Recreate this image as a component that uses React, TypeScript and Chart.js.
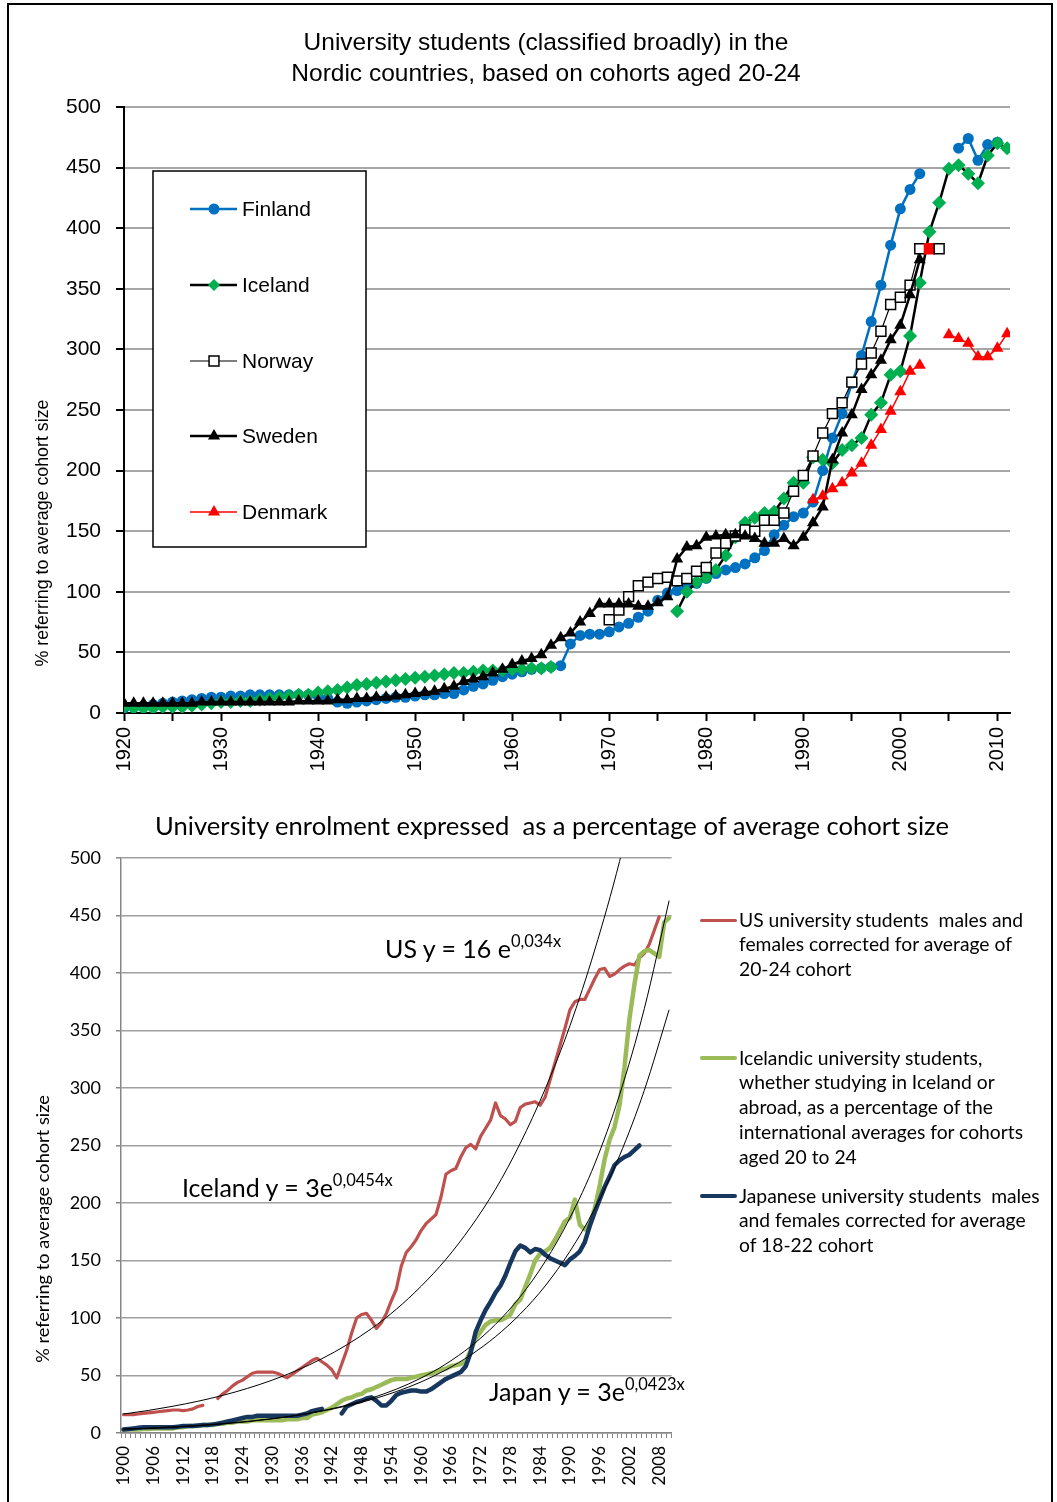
import React, { useEffect, useRef } from 'react';
import { Chart, registerables } from 'chart.js';

Chart.register(...registerables);

// ---------------- Top chart (Nordic countries) ----------------
const nordicTickYears = [1920, 1925, 1930, 1935, 1940, 1945, 1950, 1955, 1960, 1965, 1970, 1975, 1980, 1985, 1990, 1995, 2000, 2005, 2010];
const nordicYTicks = [0, 50, 100, 150, 200, 250, 300, 350, 400, 450, 500];

const finlandStart = 1920;
const finlandValues = [
  4, 5, 6, 7, 8, 9, 10, 11, 12, 13,
  13, 14, 14, 15, 15, 15, 15, 15, 15, 15,
  14, 12, 9, 8, 9, 10, 11, 12, 13, 13,
  14, 15, 15, 16, 16, 19, 22, 24, 27, 30,
  32, 34, 36, 37, 38, 39, 57, 64, 65, 65,
  67, 71, 74, 79, 84, 93, 99, 101, 104, 107,
  111, 115, 118, 120, 123, 128, 134, 147, 155, 162,
  165, 174, 200, 227, 247, 272, 295, 323, 353, 386,
  416, 432, 445, null, null, null, 466, 474, 456, 469,
  471,
];

const icelandStart = 1920;
const icelandValues = [
  5, 4, 4, 4, 5, 5, 5, 6, 7, 8,
  9, 9, 10, 10, 11, 12, 13, 14, 15, 15,
  17, 18, 19, 21, 23, 24, 25, 26, 27, 28,
  29, 30, 31, 32, 33, 33, 34, 35, 35, 35,
  36, 36, 37, 37, 38, null, null, null, null, null,
  null, null, null, null, null, null, null, 84, 100, 108,
  112, 118, 130, 145, 157, 161, 165, 166, 177, 190,
  190, 211, 209, 206, 217, 221, 227, 246, 256, 279,
  282, 311, 355, 397, 421, 449, 452, 445, 437, 460,
  470, 466,
];

const norwayStart = 1970;
const norwayValues = [
  77, 85, 96, 105, 108, 111, 112, 109, 111, 117,
  120, 132, 140, 146, 151, 150, 159, 159, 165, 183,
  196, 212, 231, 247, 256, 273, 288, 297, 315, 337,
  343, 353, 383, 383, 383,
];

const swedenStart = 1920;
const swedenValues = [
  8, 8, 8, 8, 8, 8, 8, 8, 9, 9,
  9, 9, 9, 9, 9, 9, 9, 9, 10, 10,
  10, 10, 11, 11, 12, 12, 13, 13, 14, 15,
  16, 17, 18, 20, 22, 26, 28, 30, 33, 36,
  40, 43, 45, 48, 56, 62, 66, 75, 82, 90,
  90, 90, 90, 88, 88, 91, 96, 127, 137, 138,
  145, 146, 147, 147, 146, 144, 140, 140, 144, 138,
  145, 157, 170, 209, 231, 246, 267, 279, 291, 308,
  320, 345, 374,
];

const denmarkStart = 1991;
const denmarkValues = [
  176, 179, 185, 190, 198, 206, 221, 234, 249,
  265, 282, 287, null, null, 312, 309, 305, 294, 294,
  301, 313,
];

const nordicLegendLabels = ['Finland', 'Iceland', 'Norway', 'Sweden', 'Denmark'];

// ---------------- Bottom chart (US / Iceland / Japan) ----------------
const enrolLabelYears = [1900, 1906, 1912, 1918, 1924, 1930, 1936, 1942, 1948, 1954, 1960, 1966, 1972, 1978, 1984, 1990, 1996, 2002, 2008];
const enrolYTicks = [0, 50, 100, 150, 200, 250, 300, 350, 400, 450, 500];
const enrolFirstYear = 1900;
const enrolLastYear = 2010;

const usStart = 1900;
const usValues = [
  16, 16, 16, 16.5, 17, 17.5, 18, 18.5, 19, 19.5,
  20, 20, 19.5, 20, 21, 23, 24, null, null, 30,
  34, 37, 41, 44, 46, 49, 52, 53, 53, 53,
  53, 52, 50, 48, 51, 54, 57, 60, 63, 65,
  62, 59, 55, 48, 60, 72, 87, 100, 103, 104,
  98, 91, 96, 104, 115, 125, 145, 157, 162, 168,
  176, 182, 186, 190, 205, 225, 228, 230, 240, 248,
  251, 247, 258, 265, 272, 287, 276, 273, 268, 271,
  283, 286, 287, 288, 285, 292, 307, 322, 337, 352,
  368, 375, 377, 377, 386, 395, 403, 404, 397, 399,
  403, 406, 408, 407, 413, 417, 425, 437, 449,
];

const icelandIntlStart = 1900;
const icelandIntlValues = [
  3, 3, 3, 3, 3.5, 3.5, 4, 4, 4, 4,
  4, 5, 5, 6, 6, 6, 7, 7, 7, 8,
  8, 9, 9, 10, 10, 10, 11, 11, 11, 11,
  11, 11, 11, 12, 12, 12, 13, 13, 16, 17,
  18, 20, 22, 25, 28, 30, 31, 33, 34, 37,
  38, 40, 42, 44, 46, 47, 47, 47, 48, 49,
  50, 51, 52, 53, 55, 56, 58, 59, 60, 62,
  72, 82, 88, 94, 97, 98, 98, 100, 103, 112,
  116, 127, 138, 150, 156, 158, 161, 168, 176, 184,
  187, 203, 181, 177, 182, 195, 215, 238, 255, 266,
  285, 318, 360, 390, 415, 419, 420, 417, 414, 444,
  448,
];

const japanStart = 1900;
const japanValues = [
  3, 3.5, 4, 4.5, 5, 5, 5, 5, 5, 5,
  5, 5.5, 6, 6, 6, 6.5, 7, 7, 7.5, 8,
  9, 10, 11, 12, 13, 14, 14, 15, 15, 15,
  15, 15, 15, 15, 15, 15, 16, 17, 19, 20,
  21, null, null, null, 17, 23, 25, 27, 28, 30,
  31, 28, 24, 24, 28, 33, 35, 36, 37, 37,
  36, 36, 38, 41, 44, 47, 49, 51, 53, 58,
  70, 88, 98, 107, 114, 122, 128, 137, 148, 158,
  163, 161, 157, 160, 159, 155, 152, 150, 148, 146,
  151, 154, 158, 166, 180, 192, 203, 214, 223, 233,
  237, 240, 242, 246, 250,
];

const trendYears = [1900, 1905, 1910, 1915, 1920, 1925, 1930, 1935, 1940, 1945, 1950, 1955, 1960, 1965, 1970, 1975, 1980, 1985, 1990, 1995, 2000, 2005, 2010];
const usTrendValues = [16.5, 19.6, 23.3, 27.6, 32.7, 38.8, 46, 54.5, 64.6, 76.6, 90.8, 107.6, 127.6, 151, 179, 212, 252, 299, 354, 420, 497, 590, 699];
const icelandTrendValues = [3.1, 3.9, 4.9, 6.2, 7.8, 9.8, 12.3, 15.4, 19.3, 24.2, 30.4, 38.1, 47.8, 60, 75.3, 94.5, 118.6, 149, 187, 234, 294, 369, 463];
const japanTrendValues = [3.5, 4.3, 5.4, 6.6, 8.2, 10.1, 12.5, 15.4, 19.1, 23.5, 29.1, 36, 44.4, 54.9, 67.8, 83.8, 103.5, 127.8, 158, 195, 241, 298, 368];

// ---------------- helpers ----------------
const ARIAL = "'Liberation Sans', Arial, sans-serif";
const NARROW = "'Liberation Sans Narrow', 'Liberation Sans', Arial, sans-serif";
const CALIBRI = "Lato, 'Open Sans', sans-serif";

const toPoints = (start: number, vals: (number | null)[]) => vals.map((v, i) => ({ x: start + i, y: v }));
const toXY = (xs: number[], ys: number[]) => xs.map((x, i) => ({ x, y: ys[i] }));

function drawMarker(ctx: CanvasRenderingContext2D, kind: string, x: number, y: number, r: number, fill: string, stroke: string | null, lw: number) {
  ctx.beginPath();
  if (kind === 'circle') {
    ctx.arc(x, y, r, 0, Math.PI * 2);
  } else if (kind === 'rectRot') {
    ctx.moveTo(x, y - r); ctx.lineTo(x + r, y); ctx.lineTo(x, y + r); ctx.lineTo(x - r, y); ctx.closePath();
  } else if (kind === 'rect') {
    const s = r * Math.SQRT1_2;
    ctx.rect(x - s, y - s, 2 * s, 2 * s);
  } else if (kind === 'triangle') {
    for (let k = 0; k < 3; k++) {
      const a = -Math.PI / 2 + k * (2 * Math.PI / 3);
      const px = x + Math.cos(a) * r, py = y + Math.sin(a) * r;
      if (k === 0) ctx.moveTo(px, py); else ctx.lineTo(px, py);
    }
    ctx.closePath();
  }
  ctx.fillStyle = fill;
  ctx.fill();
  if (stroke && lw > 0) { ctx.strokeStyle = stroke; ctx.lineWidth = lw; ctx.stroke(); }
}

const nordicLegendStyles: Record<string, any> = {
  Finland: { line: '#0070C0', lw: 2.5, marker: 'circle', r: 5.5, fill: '#0070C0', stroke: null, mlw: 0 },
  Iceland: { line: '#000000', lw: 2.5, marker: 'rectRot', r: 6, fill: '#00B050', stroke: null, mlw: 0 },
  Norway: { line: '#000000', lw: 1.2, marker: 'rect', r: 7, fill: '#FFFFFF', stroke: '#000000', mlw: 1.5 },
  Sweden: { line: '#000000', lw: 2.5, marker: 'triangle', r: 7, fill: '#000000', stroke: null, mlw: 0 },
  Denmark: { line: '#FF0000', lw: 1.5, marker: 'triangle', r: 7, fill: '#FF0000', stroke: null, mlw: 0 },
};

const nordicLegendPlugin = {
  id: 'nordicLegend',
  afterDatasetsDraw(chart: any) {
    const ctx: CanvasRenderingContext2D = chart.ctx;
    ctx.save();
    ctx.fillStyle = '#FFFFFF';
    ctx.fillRect(153, 171, 213, 376);
    ctx.strokeStyle = '#000000';
    ctx.lineWidth = 1.5;
    ctx.strokeRect(153, 171, 213, 376);
    const ys = [209, 285, 361, 436, 512];
    nordicLegendLabels.forEach((label, i) => {
      const st = nordicLegendStyles[label];
      const y = ys[i];
      ctx.beginPath();
      ctx.moveTo(190, y); ctx.lineTo(237, y);
      ctx.strokeStyle = st.line; ctx.lineWidth = st.lw; ctx.stroke();
      drawMarker(ctx, st.marker, 214, y, st.r, st.fill, st.stroke, st.mlw);
      ctx.fillStyle = '#000000';
      ctx.font = `21px ${ARIAL}`;
      ctx.textAlign = 'left';
      ctx.textBaseline = 'middle';
      ctx.fillText(label, 242, y + 1);
    });
    ctx.restore();
  },
};

function nordicConfig(): any {
  const norwayYears = norwayValues.map((_, i) => norwayStart + i);
  const norwayFill = norwayYears.map((y) => (y === 2003 ? '#FF0000' : '#FFFFFF'));
  const norwayStroke = norwayYears.map((y) => (y === 2003 ? '#FF0000' : '#000000'));
  return {
    type: 'line',
    data: {
      datasets: [
        { label: 'Denmark', data: toPoints(denmarkStart, denmarkValues), borderColor: '#FF0000', borderWidth: 1.5, pointStyle: 'triangle', pointRadius: 7, pointBackgroundColor: '#FF0000', pointBorderColor: '#FF0000', pointBorderWidth: 0 },
        { label: 'Sweden', data: toPoints(swedenStart, swedenValues), borderColor: '#000000', borderWidth: 2.5, pointStyle: 'triangle', pointRadius: 7, pointBackgroundColor: '#000000', pointBorderColor: '#000000', pointBorderWidth: 0 },
        { label: 'Norway', data: toPoints(norwayStart, norwayValues), borderColor: '#000000', borderWidth: 1.2, pointStyle: 'rect', pointRadius: 7, pointBackgroundColor: norwayFill, pointBorderColor: norwayStroke, pointBorderWidth: 1.5 },
        { label: 'Iceland', data: toPoints(icelandStart, icelandValues), borderColor: '#000000', borderWidth: 2.5, pointStyle: 'rectRot', pointRadius: 7, pointBackgroundColor: '#00B050', pointBorderColor: '#00B050', pointBorderWidth: 0 },
        { label: 'Finland', data: toPoints(finlandStart, finlandValues), borderColor: '#0070C0', borderWidth: 2.5, pointStyle: 'circle', pointRadius: 5.5, pointBackgroundColor: '#0070C0', pointBorderColor: '#0070C0', pointBorderWidth: 0 },
      ],
    },
    options: {
      responsive: false,
      animation: false,
      events: [],
      layout: { padding: { left: 0, right: 47, top: 107, bottom: 7 } },
      plugins: { legend: { display: false }, tooltip: { enabled: false }, title: { display: false } },
      elements: { line: { tension: 0 } },
      scales: {
        x: {
          type: 'linear',
          min: 1920,
          max: 2011.3,
          afterBuildTicks: (s: any) => { s.ticks = nordicTickYears.map((v) => ({ value: v })); },
          afterFit: (s: any) => { s.height = 70; },
          grid: { drawOnChartArea: false, drawTicks: true, tickLength: 8, tickColor: '#000000', tickWidth: 2 },
          border: { color: '#000000', width: 2 },
          ticks: {
            autoSkip: false, minRotation: 90, maxRotation: 90, padding: 6, color: '#000000',
            font: { family: ARIAL, size: 20 },
            callback: (v: number) => (v % 10 === 0 ? String(v) : ''),
          },
        },
        y: {
          type: 'linear',
          min: 0,
          max: 500,
          afterBuildTicks: (s: any) => { s.ticks = nordicYTicks.map((v) => ({ value: v })); },
          afterFit: (s: any) => { s.width = 124; },
          grid: { color: '#A6A6A6', lineWidth: 2, tickColor: '#000000', tickLength: 8, tickWidth: 2 },
          border: { color: '#000000', width: 2 },
          ticks: { padding: 15, color: '#000000', font: { family: ARIAL, size: 21 } },
        },
      },
    },
    plugins: [nordicLegendPlugin],
  };
}

function enrolConfig(): any {
  const tickMarks: number[] = [];
  for (let y = enrolFirstYear; y <= enrolLastYear + 1; y++) tickMarks.push(y - 0.5);
  const seriesLine = { pointRadius: 0, borderJoinStyle: 'round', borderCapStyle: 'round', tension: 0 };
  const trendLine = { pointRadius: 0, borderColor: '#000000', borderWidth: 1, cubicInterpolationMode: 'monotone' };
  return {
    type: 'line',
    data: {
      datasets: [
        { label: 'US trend', data: toXY(trendYears, usTrendValues), ...trendLine },
        { label: 'Iceland trend', data: toXY(trendYears, icelandTrendValues), ...trendLine },
        { label: 'Japan trend', data: toXY(trendYears, japanTrendValues), ...trendLine },
        { label: 'Japanese university students', data: toPoints(japanStart, japanValues), borderColor: '#17375E', borderWidth: 4.5, ...seriesLine },
        { label: 'Icelandic university students', data: toPoints(icelandIntlStart, icelandIntlValues), borderColor: '#9BBB59', borderWidth: 4.5, ...seriesLine },
        { label: 'US university students', data: toPoints(usStart, usValues), borderColor: '#C0504D', borderWidth: 3.2, ...seriesLine },
      ],
    },
    options: {
      responsive: false,
      animation: false,
      events: [],
      layout: { padding: { left: 0, right: 26, top: 58, bottom: 9 } },
      plugins: { legend: { display: false }, tooltip: { enabled: false }, title: { display: false } },
      scales: {
        x: {
          type: 'linear',
          min: enrolFirstYear - 0.5,
          max: enrolLastYear + 0.5,
          afterBuildTicks: (s: any) => { s.ticks = tickMarks.map((v) => ({ value: v })); },
          afterFit: (s: any) => { s.height = 60; },
          grid: { drawOnChartArea: false, drawTicks: true, tickLength: 5, tickColor: '#868686', tickWidth: 1 },
          border: { color: '#868686', width: 1.5 },
          ticks: {
            autoSkip: false, minRotation: 90, maxRotation: 90, padding: 8, color: '#000000', labelOffset: 2.5,
            font: { family: CALIBRI, size: 17 },
            callback: (v: number) => {
              const yr = Math.round(v + 0.5);
              return enrolLabelYears.includes(yr) ? String(yr) : '';
            },
          },
        },
        y: {
          type: 'linear',
          min: 0,
          max: 500,
          afterBuildTicks: (s: any) => { s.ticks = enrolYTicks.map((v) => ({ value: v })); },
          afterFit: (s: any) => { s.width = 121; },
          grid: { color: '#A0A0A0', lineWidth: 1.5, tickColor: '#868686', tickLength: 5, tickWidth: 1.5 },
          border: { color: '#868686', width: 1.5 },
          ticks: { padding: 15, color: '#000000', font: { family: CALIBRI, size: 18 } },
        },
      },
    },
  };
}

const abs = (s: React.CSSProperties): React.CSSProperties => ({ position: 'absolute', whiteSpace: 'pre', margin: 0, ...s });

function Rotated({ x, y, text, font, size }: { x: number; y: number; text: string; font: string; size: number }) {
  return (
    <div style={abs({ left: x, top: y, transform: 'translate(-50%, -50%) rotate(-90deg)', fontFamily: font, fontSize: size, lineHeight: '1', color: '#000' })}>{text}</div>
  );
}

function Equation({ x, cy, main, sup }: { x: number; cy: number; main: string; sup: string }) {
  return (
    <div style={abs({ left: x, top: cy - 16, fontFamily: CALIBRI, fontSize: 25, lineHeight: '32px', color: '#000' })}>
      {main}
      <span style={{ fontSize: 16.5, position: 'relative', top: -11 }}>{sup}</span>
    </div>
  );
}

function LegendItem({ y, color, thick, lines }: { y: number; color: string; thick: number; lines: string[] }) {
  return (
    <>
      <div style={abs({ left: 700, top: y - thick / 2, width: 37, height: thick, background: color, borderRadius: thick / 2 })} />
      <div style={abs({ left: 739, top: y - 12.4, fontFamily: CALIBRI, fontSize: 19.3, lineHeight: '24.8px', color: '#000' })}>
        {lines.join('\n')}
      </div>
    </>
  );
}

export default function App() {
  const topRef = useRef<HTMLCanvasElement>(null);
  const botRef = useRef<HTMLCanvasElement>(null);

  useEffect(() => {
    const c1 = new Chart(topRef.current as HTMLCanvasElement, nordicConfig());
    const c2 = new Chart(botRef.current as HTMLCanvasElement, enrolConfig());
    return () => {
      c1.destroy();
      c2.destroy();
    };
  }, []);

  return (
    <div style={{ position: 'absolute', left: 0, top: 0, width: 1057, height: 1502, overflow: 'hidden', background: '#fff' }}>
      <canvas ref={topRef} width={1057} height={790} style={{ position: 'absolute', left: 0, top: 0, width: 1057, height: 790 }} />
      <canvas ref={botRef} width={700} height={702} style={{ position: 'absolute', left: 0, top: 800, width: 700, height: 702 }} />

      <div style={abs({ left: 7, top: 3, width: 1046, height: 1540, border: '2px solid #000', boxSizing: 'border-box', pointerEvents: 'none' })} />

      <div style={abs({ left: 546, top: 26, transform: 'translateX(-50%)', textAlign: 'center', fontFamily: NARROW, fontSize: 24.5, lineHeight: '31px', color: '#000' })}>
        {'University students (classified broadly) in the\nNordic countries, based on cohorts aged 20-24'}
      </div>
      <Rotated x={43} y={533} text="% referring to average cohort size" font={ARIAL} size={17.8} />

      <div style={abs({ left: 552, top: 825, transform: 'translate(-50%, -50%)', fontFamily: CALIBRI, fontSize: 25.6, lineHeight: '30px', color: '#000' })}>
        {'University enrolment expressed  as a percentage of average cohort size'}
      </div>
      <Rotated x={42} y={1229} text="% referring to average cohort size" font={CALIBRI} size={18.2} />

      <Equation x={385} cy={948} main="US y = 16 e" sup="0,034x" />
      <Equation x={182} cy={1187} main="Iceland y = 3e" sup="0,0454x" />
      <Equation x={489} cy={1391} main="Japan y = 3e" sup="0,0423x" />

      <LegendItem y={920} color="#C0504D" thick={3} lines={['US university students  males and', 'females corrected for average of', '20-24 cohort']} />
      <LegendItem y={1058} color="#9BBB59" thick={4} lines={['Icelandic university students,', 'whether studying in Iceland or', 'abroad, as a percentage of the', 'international averages for cohorts', 'aged 20 to 24']} />
      <LegendItem y={1196} color="#17375E" thick={4} lines={['Japanese university students  males', 'and females corrected for average', 'of 18-22 cohort']} />
    </div>
  );
}
